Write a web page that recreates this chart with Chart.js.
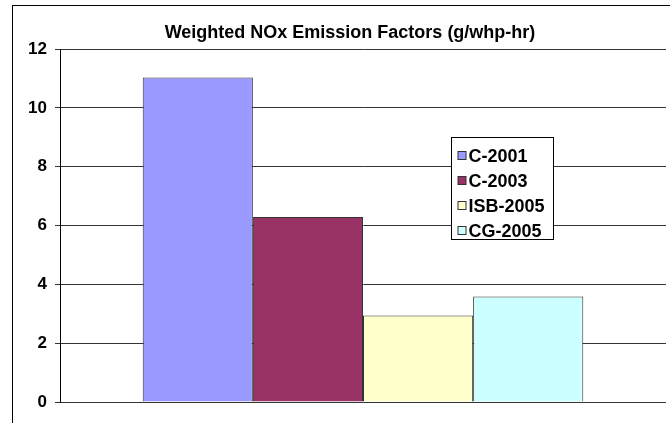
<!DOCTYPE html>
<html>
<head>
<meta charset="utf-8">
<script src="https://cdn.jsdelivr.net/npm/chart.js@4/dist/chart.umd.min.js"></script>
<style>
  html, body { margin: 0; padding: 0; background: #fff; }
  #wrap { width: 670px; height: 423px; }
</style>
</head>
<body>
<div id="wrap"><canvas id="c" width="670" height="423"></canvas></div>
<script>
// ── Data ────────────────────────────────────────────────────────────────
const titleText = "Weighted NOx Emission Factors (g/whp-hr)";
const categories = ["NOx"];
const seriesNames = ["C-2001", "C-2003", "ISB-2005", "CG-2005"];
const seriesValues = [11.03, 6.29, 2.94, 3.59];
const seriesColors = ["#9999FF", "#993366", "#FFFFCC", "#CCFFFF"];
const yTicks = [0, 2, 4, 6, 8, 10, 12];

const FONT = "'Liberation Sans', Arial, sans-serif";

// Outer chart frame (Excel-style border round the whole chart) + title.
const framePlugin = {
  id: "frame",
  beforeDraw(chart) {
    const c = chart.ctx;
    c.save();
    c.fillStyle = "#fff";
    c.fillRect(0, 0, chart.width, chart.height);
    c.strokeStyle = "#000";
    c.lineWidth = 1;
    c.strokeRect(12.5, 5.5, chart.width + 20, chart.height + 20);
    // Title sits a little right of the canvas centre, as in the original.
    c.fillStyle = "#000";
    c.font = "bold 18px " + FONT;
    c.textAlign = "center";
    c.textBaseline = "alphabetic";
    c.fillText(titleText, 350, 38);
    c.restore();
  },
};

// Boxed legend floating inside the plot, like the original.
const boxLegend = {
  id: "boxLegend",
  afterDraw(chart) {
    const c = chart.ctx;
    const x = 451.5, y = 137.5, w = 102, h = 102;
    c.save();
    c.fillStyle = "#fff";
    c.fillRect(x, y, w, h);
    c.strokeStyle = "#000";
    c.lineWidth = 1;
    c.strokeRect(x, y, w, h);
    c.font = "bold 18px " + FONT;
    c.textBaseline = "middle";
    chart.data.datasets.forEach((ds, i) => {
      const cy = y + 18.5 + i * 25;
      c.fillStyle = ds.backgroundColor;
      c.fillRect(x + 6.5, cy - 4.5, 8, 8);
      c.strokeStyle = "#333";
      c.strokeRect(x + 6.5, cy - 4.5, 8, 8);
      c.fillStyle = "#000";
      c.fillText(ds.label, x + 17, cy + 1);
    });
    c.restore();
  },
};

new Chart(document.getElementById("c"), {
  type: "bar",
  data: {
    labels: categories,
    datasets: seriesNames.map((name, i) => ({
      label: name,
      data: [seriesValues[i]],
      backgroundColor: seriesColors[i],
      borderColor: "#333",
      borderWidth: 1,
      borderSkipped: "bottom",
    })),
  },
  options: {
    responsive: false,
    animation: false,
    devicePixelRatio: 1,
    layout: { padding: { left: 0, right: 4, top: 49, bottom: 13 } },
    datasets: { bar: { categoryPercentage: 0.727, barPercentage: 1.0 } },
    scales: {
      x: {
        ticks: { display: false },
        grid: { display: false },
        border: { display: false },
      },
      y: {
        min: 0,
        max: 12,
        afterFit: (s) => { s.width = 60; },
        afterBuildTicks: (s) => { s.ticks = yTicks.map((v) => ({ value: v })); },
        ticks: {
          padding: 8,
          color: "#000",
          font: { family: FONT, size: 17, weight: "bold" },
        },
        grid: { color: "#333", lineWidth: 1, tickLength: 5, tickColor: "#333" },
        border: { display: true, color: "#000", width: 1 },
      },
    },
    plugins: {
      legend: { display: false },
      tooltip: { enabled: false },
      title: { display: false },
    },
  },
  plugins: [framePlugin, boxLegend],
});
</script>
</body>
</html>
